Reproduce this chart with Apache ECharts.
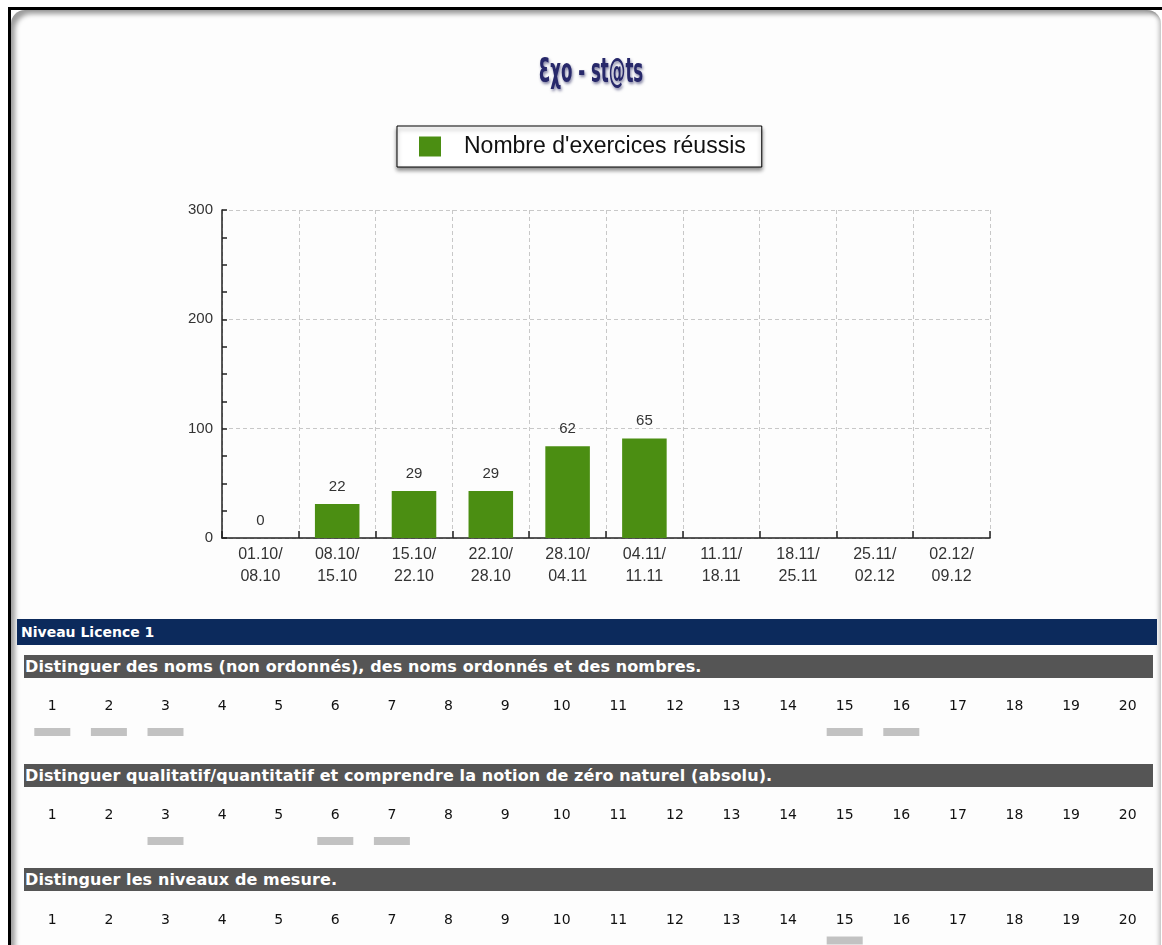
<!DOCTYPE html>
<html>
<head>
<meta charset="utf-8">
<script src="https://cdn.jsdelivr.net/npm/echarts@6.0.0/dist/echarts.min.js"></script>
<style>
html,body{margin:0;padding:0;width:1162px;height:945px;overflow:hidden;background:#fff;}
#frame{position:absolute;left:8px;top:7px;width:1160px;height:960px;border-top:3px solid #000;border-left:3px solid #000;}
#panel{position:absolute;left:11px;top:10px;width:1150px;height:980px;border-radius:14px;background:#fdfdfd;
  box-shadow: inset 6px 6px 5px -2px rgba(0,0,0,0.38), inset -4px 0 4px -2px rgba(0,0,0,0.25);}
.navy{position:absolute;left:17px;top:619px;width:1140px;height:26px;background:#0c2a5c;color:#fff;
  font:bold 14px "DejaVu Sans",Verdana,sans-serif;line-height:26px;padding-left:4px;box-sizing:border-box;white-space:nowrap;}
.sec{position:absolute;left:24px;width:1129px;height:23px;background:#555555;color:#fff;
  font:bold 16px "DejaVu Sans",Verdana,sans-serif;line-height:23px;padding-left:1px;box-sizing:border-box;white-space:nowrap;letter-spacing:0.1px;}
#chart{position:absolute;left:0;top:0;width:1162px;height:945px;z-index:3;}
</style>
</head>
<body>
<div id="frame"></div>
<div id="panel"></div>
<div id="hdr"></div>
<div id="chart"></div>
<script>
// ---- data ----
const chartTitle = 'Ɛχo - st@ts';
const seriesName = "Nombre d'exercices réussis";
const categories = ['01.10/\n08.10','08.10/\n15.10','15.10/\n22.10','22.10/\n28.10','28.10/\n04.11',
                    '04.11/\n11.11','11.11/\n18.11','18.11/\n25.11','25.11/\n02.12','02.12/\n09.12'];
const barHeights = [0, 31, 43, 43, 84, 91, '-', '-', '-', '-'];
const barLabels  = ['0', '22', '29', '29', '62', '65', '', '', '', ''];
const yTicks = [0, 100, 200, 300];

const levelTitle = 'Niveau Licence 1';
const sectionTitles = [
  'Distinguer des noms (non ordonnés), des noms ordonnés et des nombres.',
  'Distinguer qualitatif/quantitatif et comprendre la notion de zéro naturel (absolu).',
  'Distinguer les niveaux de mesure.'
];
const exerciseNumbers = ['1','2','3','4','5','6','7','8','9','10','11','12','13','14','15','16','17','18','19','20'];
const done1 = [1, 2, 3, 15, 16];
const done2 = [3, 6, 7];
const done3 = [15];
const doneLists = [done1, done2, done3];

// ---- layout (html headers) ----
const secTops = [655, 764, 868];
const hdr = document.getElementById('hdr');
const nv = document.createElement('div');
nv.className = 'navy'; nv.textContent = levelTitle; hdr.appendChild(nv);
sectionTitles.forEach((t, i) => {
  const d = document.createElement('div');
  d.className = 'sec'; d.style.top = secTops[i] + 'px'; d.textContent = t; hdr.appendChild(d);
});

// ---- chart ----
const chart = echarts.init(document.getElementById('chart'), null, {renderer: 'canvas'});
const baseFont = '"Liberation Sans", Arial, Helvetica, sans-serif';
const dash = [4, 3];

const grids = [{left: 222, top: 210, width: 768, height: 328}];
const xAxes = [{
  type: 'category', gridIndex: 0, data: categories,
  axisLine: {show: true, lineStyle: {color: '#222', width: 1.5}},
  axisTick: {show: true, inside: true, length: 7, lineStyle: {color: '#222', width: 1.5}},
  axisLabel: {fontFamily: baseFont, fontSize: 16, lineHeight: 22, color: '#333', margin: 6, interval: 0},
  splitLine: {show: true, interval: 0, lineStyle: {color: '#c8c8c8', type: dash, width: 1}}
}];
const yAxes = [{
  type: 'value', gridIndex: 0, min: yTicks[0], max: yTicks[yTicks.length - 1], interval: yTicks[1] - yTicks[0],
  axisLine: {show: true, lineStyle: {color: '#222', width: 1.5}},
  axisTick: {show: true, inside: true, length: 5, lineStyle: {color: '#222', width: 1.5}},
  minorTick: {show: true, splitNumber: 4, length: 5, lineStyle: {color: '#222', width: 1.5}},
  axisLabel: {fontFamily: baseFont, fontSize: 15, color: '#333', margin: 9},
  splitLine: {show: true, lineStyle: {color: '#c8c8c8', type: dash, width: 1}}
}];
const series = [{
  name: seriesName, type: 'bar', xAxisIndex: 0, yAxisIndex: 0, data: barHeights, barWidth: '58%',
  itemStyle: {color: '#4b8e12'},
  label: {show: true, position: 'top', distance: 10, fontFamily: baseFont, fontSize: 15, color: '#333',
          formatter: p => barLabels[p.dataIndex] || ''}
}];

const indicatorY = [732, 841, 946];
doneLists.forEach((list, i) => {
  const gi = i + 1;
  grids.push({left: 24, width: 1132, top: indicatorY[i] - 10, height: 20});
  xAxes.push({
    type: 'category', gridIndex: gi, data: exerciseNumbers, position: 'top',
    axisLine: {show: false}, axisTick: {show: false}, splitLine: {show: false},
    axisLabel: {interval: 0, fontFamily: '"DejaVu Sans", Verdana, sans-serif', fontSize: 14, color: '#111', margin: 9}
  });
  yAxes.push({type: 'value', gridIndex: gi, min: 0, max: 1, show: false});
  series.push({
    type: 'scatter', xAxisIndex: gi, yAxisIndex: gi, symbol: 'rect', symbolSize: [36, 8],
    itemStyle: {color: '#b3b3b3'}, silent: true,
    data: list.map(n => [n - 1, 0.5])
  });
});

chart.setOption({
  animation: false,
  graphic: [{
    type: 'text', x: 591, y: 73, scaleX: 0.56, z: 10,
    style: {
      text: chartTitle, align: 'center', verticalAlign: 'middle',
      font: 'bold 33px "DejaVu Sans Condensed", "DejaVu Sans", sans-serif',
      fill: '#27286a',
      textShadowColor: 'rgba(30,30,90,0.55)', textShadowBlur: 3, textShadowOffsetX: 1, textShadowOffsetY: 2
    }
  }],
  legend: {
    data: [seriesName], left: 397, top: 126, orient: 'horizontal',
    padding: [9, 16, 9, 22], itemWidth: 22, itemHeight: 20, icon: 'rect',
    backgroundColor: '#fff', borderColor: '#000', borderWidth: 1,
    shadowColor: 'rgba(0,0,0,0.45)', shadowBlur: 4, shadowOffsetY: 3,
    textStyle: {fontFamily: baseFont, fontSize: 23, color: '#111', padding: [0, 0, 0, 18]}
  },
  grid: grids, xAxis: xAxes, yAxis: yAxes, series: series
});
</script>
</body>
</html>
